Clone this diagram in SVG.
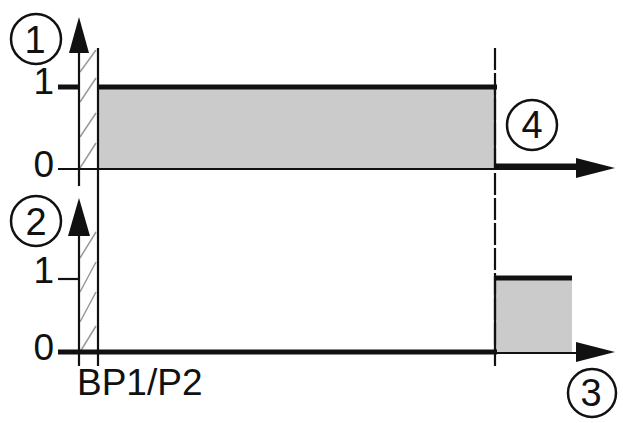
<svg xmlns="http://www.w3.org/2000/svg" width="623" height="423" viewBox="0 0 623 423">
<style>
.lbl{font-family:"Liberation Sans",Arial,sans-serif;font-size:37px;fill:#111}
.num{font-family:"Liberation Sans",Arial,sans-serif;font-size:38px;fill:#111;text-anchor:middle}
.circ{fill:none;stroke:#111;stroke-width:2.5}
.ax{stroke:#111;stroke-width:2.2;fill:none}
.thick{stroke:#111;stroke-width:5;fill:none}
.hatch{stroke:#999;stroke-width:1.5}
.fill{fill:#cbcbcb}
.head{fill:#111}
</style>
<rect width="623" height="423" fill="#fff"/>
<g id="fills">
<rect class="fill" x="98" y="88" width="397" height="81"/>
<rect class="fill" x="495" y="279" width="77" height="73"/>
</g>
<g id="hatching">
<line class="hatch" x1="80" y1="72" x2="96" y2="50"/>
<line class="hatch" x1="80" y1="102" x2="96" y2="78"/>
<line class="hatch" x1="80" y1="137" x2="96" y2="113"/>
<line class="hatch" x1="80" y1="168" x2="96" y2="143"/>
<line class="hatch" x1="80" y1="258" x2="96" y2="232"/>
<line class="hatch" x1="80" y1="292" x2="96" y2="262"/>
<line class="hatch" x1="80" y1="322" x2="96" y2="292"/>
<line class="hatch" x1="80" y1="352" x2="96" y2="326"/>
</g>
<g id="connectors">
<line class="ax" x1="79" y1="50" x2="79" y2="186"/>
<polygon class="head" points="79,17 69,53 89,53"/>
<line class="ax" x1="79" y1="232" x2="79" y2="366"/>
<polygon class="head" points="79,198 68,236 90,236"/>
<line class="ax" x1="98" y1="48" x2="98" y2="366"/>
<line class="ax" x1="58" y1="169" x2="580" y2="169"/>
<polygon class="head" points="615,168 576,158 576,178"/>
<line class="thick" x1="58" y1="87" x2="79" y2="87"/>
<line class="thick" x1="98" y1="87" x2="497" y2="87"/>
<line class="thick" x1="495" y1="166" x2="580" y2="166"/>
<line class="ax" x1="58" y1="279" x2="79" y2="279"/>
<line class="thick" stroke-width="6" x1="58" y1="352" x2="497" y2="352"/>
<line class="ax" stroke-width="3" x1="495" y1="353" x2="580" y2="353"/>
<polygon class="head" points="615,352 576,342 576,362"/>
<line class="thick" x1="495" y1="278" x2="572" y2="278"/>
<line class="ax" stroke-width="3" stroke-dasharray="22 3" x1="495" y1="48" x2="495" y2="366"/>
<line class="ax" stroke-width="3" x1="495" y1="86" x2="495" y2="169"/>
<line class="ax" stroke-width="3" x1="495" y1="276" x2="495" y2="354"/>
</g>
<g id="axis-labels">
<text class="lbl" x="54" y="94" text-anchor="end">1</text>
<text class="lbl" x="54" y="177" text-anchor="end">0</text>
<text class="lbl" x="54" y="283" text-anchor="end">1</text>
<text class="lbl" x="54" y="360" text-anchor="end">0</text>
<text class="lbl" x="77" y="395" font-size="33">BP1/P2</text>
</g>
<g id="marker-1">
<circle class="circ" cx="36" cy="39" r="25"/>
<text class="num" x="35" y="53">1</text>
</g>
<g id="marker-2">
<circle class="circ" cx="36" cy="221" r="25"/>
<text class="num" x="36" y="235">2</text>
</g>
<g id="marker-3">
<circle class="circ" cx="592" cy="393" r="24"/>
<text class="num" x="591" y="406">3</text>
</g>
<g id="marker-4">
<circle class="circ" cx="532" cy="125" r="25"/>
<text class="num" x="532" y="138">4</text>
</g>
</svg>
